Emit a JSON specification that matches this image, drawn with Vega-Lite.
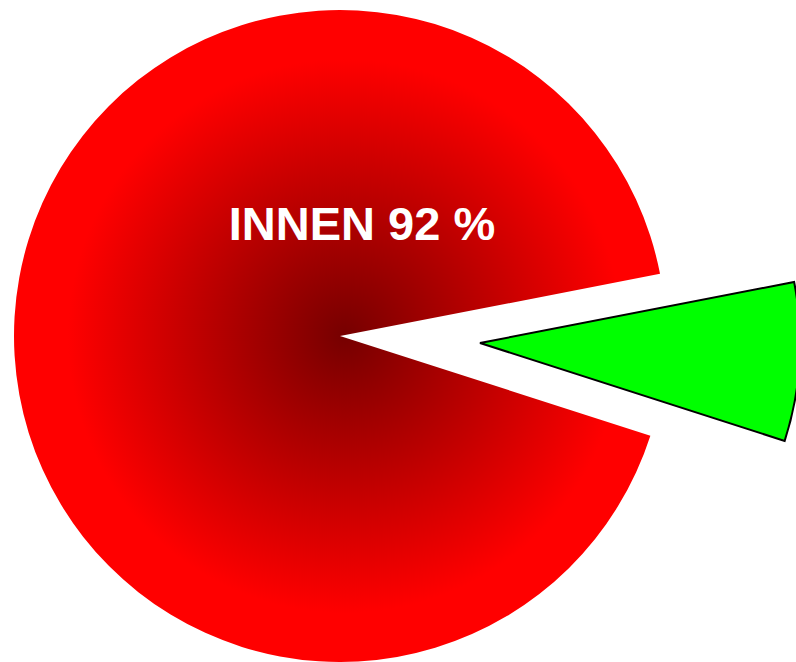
{
  "$schema": "https://vega.github.io/schema/vega-lite/v6.json",
  "autosize": "none",
  "width": 652,
  "height": 652,
  "padding": {"left": 14, "right": 130, "top": 10, "bottom": 0},
  "background": "white",
  "config": {"view": {"stroke": null}},
  "data": {"values": [
    {"category": "AUSSEN", "value": 8, "label": ""},
    {"category": "INNEN", "value": 92, "label": "INNEN 92 %"}
  ]},
  "transform": [
    {"stack": "value", "groupby": [], "as": ["v0", "v1"]}
  ],
  "layer": [
    {
      "transform": [{"filter": "datum.category === 'INNEN'"}],
      "mark": {
        "type": "arc",
        "radius": 326,
        "fill": {
          "gradient": "radial",
          "x1": 0.512, "y1": 0.5, "r1": 0,
          "x2": 0.512, "y2": 0.5, "r2": 0.5,
          "stops": [
            {"offset": 0, "color": "#760000"},
            {"offset": 0.85, "color": "#ff0000"},
            {"offset": 1, "color": "#ff0000"}
          ]
        },
        "stroke": null
      },
      "encoding": {
        "theta": {"field": "v0", "type": "quantitative", "scale": {"domain": [0, 100], "range": [1.379, 7.6622]}},
        "theta2": {"field": "v1"}
      }
    },
    {
      "transform": [{"filter": "datum.category === 'AUSSEN'"}],
      "mark": {
        "type": "arc",
        "fill": "#00ff00",
        "stroke": "black",
        "strokeWidth": 2,
        "strokeJoin": "miter",
        "radius": 320,
        "xOffset": 140,
        "yOffset": 7
      },
      "encoding": {
        "theta": {"field": "v0", "type": "quantitative", "scale": {"domain": [0, 100], "range": [1.379, 7.6622]}},
        "theta2": {"field": "v1"}
      }
    },
    {
      "transform": [{"filter": "datum.category === 'INNEN'"}],
      "mark": {
        "type": "text",
        "font": "Liberation Sans",
        "fontWeight": "bold",
        "fontSize": 47,
        "color": "white",
        "align": "center",
        "baseline": "middle",
        "dx": 22,
        "dy": -110
      },
      "encoding": {
        "text": {"field": "label"}
      }
    }
  ]
}
